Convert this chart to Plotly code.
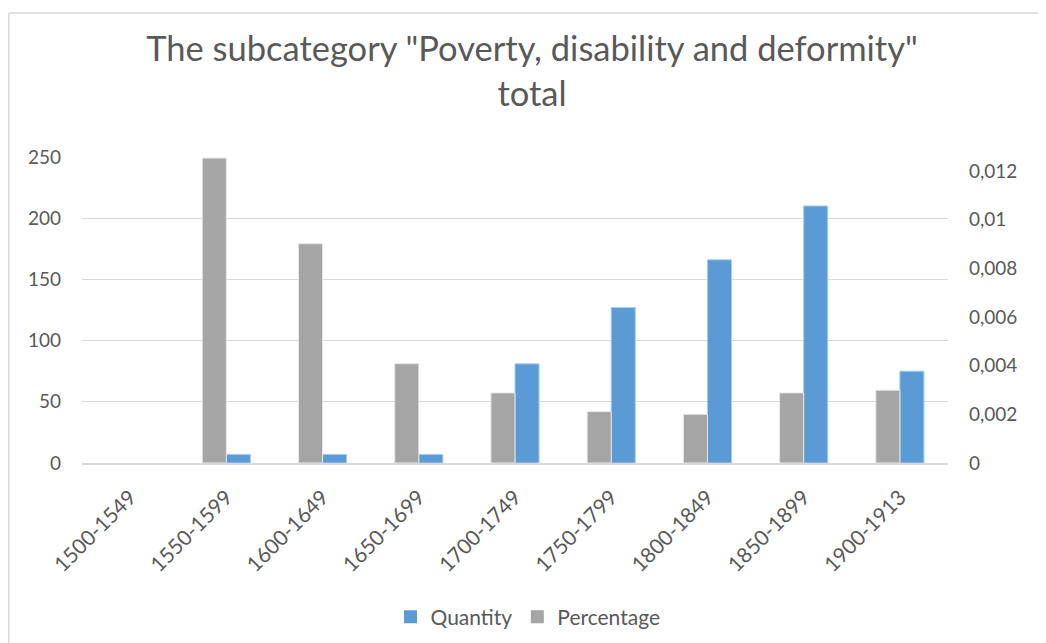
import plotly.graph_objects as go

categories = ["1500-1549", "1550-1599", "1600-1649", "1650-1699", "1700-1749",
              "1750-1799", "1800-1849", "1850-1899", "1900-1913"]
quantity = [None, 7, 7, 7, 81, 127, 166, 210, 75]
percentage = [None, 0.01253, 0.00901, 0.00408, 0.00288, 0.00211, 0.00200, 0.00288, 0.00299]

left_ticks = [0, 50, 100, 150, 200, 250]
right_ticks = [0, 0.002, 0.004, 0.006, 0.008, 0.010, 0.012]
right_ticktext = ["0", "0,002", "0,004", "0,006", "0,008", "0,01", "0,012"]

# page offset caused by default body margin
OX, OY = 8, 8
W, H = 1046 - OX, 643 - OY
# plot area in page pixels
PL, PR, PT, PB = 82, 948, 157, 463
L, R, T, B = PL - OX, PR - OX, PT - OY, PB - OY

FONT = "Lato"
TXT = "#595959"
BLUE = "#5B9BD5"
GRAY = "#A5A5A5"

fig = go.Figure()
fig.add_trace(go.Bar(
    x=categories, y=percentage, name="Percentage", yaxis="y2",
    offsetgroup="p", showlegend=False,
    marker=dict(color=GRAY, line=dict(color="#E6E6E6", width=1)),
))
fig.add_trace(go.Bar(
    x=categories, y=quantity, name="Quantity", yaxis="y",
    offsetgroup="q", showlegend=False,
    marker=dict(color=BLUE, line=dict(color="#A9CBEA", width=1)),
))
# legend entries
fig.add_trace(go.Scatter(x=[None], y=[None], mode="markers", name="Quantity",
                         marker=dict(symbol="square", size=13, color=BLUE)))
fig.add_trace(go.Scatter(x=[None], y=[None], mode="markers", name="Percentage",
                         marker=dict(symbol="square", size=13, color=GRAY)))

def px_x(p):
    return (p - PL) / (PR - PL)

def px_y(p):
    return (PB - p) / (PB - PT)

fig.update_layout(
    width=W, height=H,
    margin=dict(l=L, r=W - R, t=T, b=H - B, autoexpand=False),
    paper_bgcolor="white", plot_bgcolor="white",
    barmode="group", bargap=0.5, bargroupgap=0,
    font=dict(family=FONT, color=TXT, size=19),
    title=dict(
        text='The subcategory "Poverty, disability and deformity"<br>total',
        x=(532 - OX) / W, xref="container", xanchor="center",
        y=1 - 53 / H, yref="container", yanchor="top",
        font=dict(family=FONT, size=34.5, color=TXT),
    ),
    xaxis=dict(
        type="category", tickangle=-45, showgrid=False,
        showline=True, linecolor="#D9D9D9", linewidth=1.5,
        ticks="", tickfont=dict(size=21, color=TXT),
        ticklabelstandoff=12, automargin=False,
    ),
    yaxis=dict(
        range=[0, 250], tickvals=left_ticks, showgrid=True,
        gridcolor="#D9D9D9", gridwidth=1, zeroline=False, showline=False,
        ticks="", ticklabelstandoff=20, tickfont=dict(size=19, color=TXT),
        automargin=False,
    ),
    yaxis2=dict(
        overlaying="y", side="right", range=[0, 0.012 * 306 / 292],
        tickvals=right_ticks, ticktext=right_ticktext, showgrid=False,
        zeroline=False, showline=False, ticks="", ticklabelstandoff=20,
        tickfont=dict(size=19, color=TXT), automargin=False,
    ),
    legend=dict(
        orientation="h", x=px_x(528), xanchor="center",
        y=px_y(617), yanchor="middle",
        font=dict(size=21, color=TXT), traceorder="normal",
        itemwidth=30,
    ),
    shapes=[
        dict(type="line", xref="paper", yref="paper",
             x0=px_x(8.75), x1=px_x(1046), y0=px_y(13), y1=px_y(13),
             line=dict(color="#D9D9D9", width=1.5)),
        dict(type="line", xref="paper", yref="paper",
             x0=px_x(8.75), x1=px_x(8.75), y0=px_y(13), y1=px_y(643),
             line=dict(color="#D9D9D9", width=1.5)),
    ],
)

fig.write_html("out.html")
